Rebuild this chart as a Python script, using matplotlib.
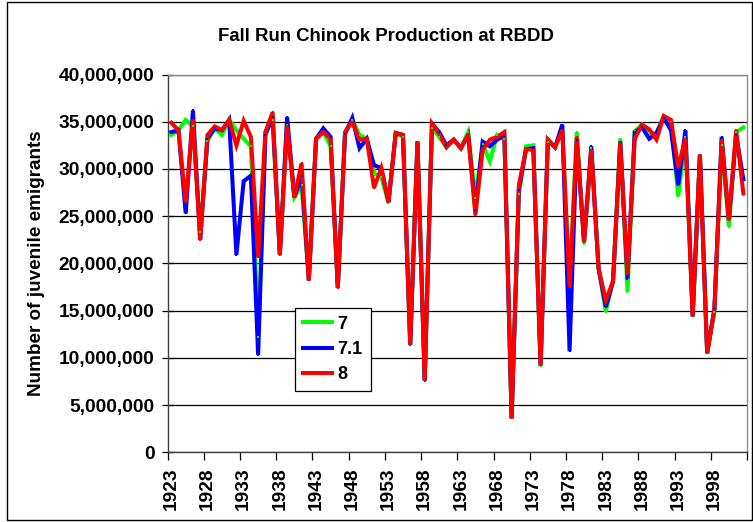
import matplotlib
matplotlib.use("Agg")
import matplotlib.pyplot as plt
import matplotlib.patches as mpatches
from matplotlib.ticker import FuncFormatter, FixedLocator
import numpy as np

plt.rcParams["font.family"] = ["Liberation Sans", "DejaVu Sans"]
plt.rcParams["font.weight"] = "bold"

# ── data (millions of juvenile emigrants) ─────────────────────────────────────
years = list(range(1923, 2003))

run_7 = [
    33.6, 34.1, 35.2, 34.5, 23.3, 33.0, 34.3, 33.6, 35.2, 34.1,
    33.2, 32.4, 12.2, 33.9, 35.2, 20.9, 34.7, 27.0, 28.3, 18.2,
    33.2, 33.9, 32.4, 17.4, 33.9, 35.2, 33.6, 33.2, 29.5, 29.2,
    26.4, 33.8, 33.4, 11.4, 32.9, 7.6, 34.3, 33.4, 32.3, 33.1,
    32.2, 33.9, 26.9, 32.6, 30.8, 33.6, 33.2, 3.6, 27.3, 32.4,
    32.5, 9.1, 32.9, 32.3, 34.1, 17.5, 33.9, 22.1, 32.2, 19.5,
    14.9, 18.1, 33.2, 17.0, 34.0, 34.7, 33.8, 33.8, 35.6, 35.1,
    27.1, 33.4, 14.4, 31.5, 10.5, 14.9, 32.5, 23.9, 33.9, 34.4,
]
run_71 = [
    33.9, 34.1, 25.3, 36.2, 22.5, 33.2, 34.3, 34.1, 35.2, 20.9,
    28.7, 29.3, 10.3, 33.6, 35.5, 20.9, 35.5, 27.0, 29.3, 18.2,
    33.2, 34.3, 33.4, 17.4, 33.7, 35.4, 32.2, 33.2, 30.4, 30.1,
    26.5, 33.8, 33.6, 11.4, 32.9, 7.6, 34.8, 33.9, 32.5, 33.1,
    32.2, 33.6, 25.7, 32.9, 32.4, 33.1, 33.5, 3.6, 27.8, 32.1,
    32.2, 9.2, 33.1, 32.3, 34.7, 10.7, 33.1, 22.3, 32.4, 19.5,
    15.4, 18.1, 32.9, 18.4, 33.9, 34.4, 33.2, 33.8, 35.4, 34.1,
    28.3, 34.1, 14.4, 31.5, 10.5, 15.2, 33.4, 24.6, 33.6, 28.9,
]
run_8 = [
    34.9, 34.1, 26.5, 35.2, 22.5, 33.6, 34.5, 34.1, 35.2, 32.5,
    35.1, 33.4, 20.7, 33.9, 36.0, 20.9, 34.5, 27.0, 30.6, 18.2,
    33.2, 33.9, 33.2, 17.4, 33.9, 35.0, 33.1, 33.2, 28.0, 30.1,
    26.5, 33.8, 33.6, 11.4, 32.9, 7.6, 34.8, 33.7, 32.3, 33.1,
    32.2, 33.6, 25.1, 32.0, 33.1, 33.4, 33.9, 3.6, 28.3, 32.1,
    32.0, 9.2, 33.1, 32.3, 34.1, 17.5, 33.4, 22.3, 32.0, 19.5,
    16.1, 18.1, 32.7, 18.9, 33.2, 34.7, 34.2, 33.1, 35.6, 35.2,
    30.2, 33.2, 14.4, 31.5, 10.5, 15.1, 33.1, 24.6, 34.1, 27.4,
]

series_names = ["7", "7.1", "8"]
series_colors = ["#00ff00", "#0000ff", "#ff0000"]
series_values = [run_7, run_71, run_8]

# ── figure ────────────────────────────────────────────────────────────────────
W, H = 753, 522
fig = plt.figure(figsize=(W / 100, H / 100), dpi=100)
fig.patch.set_facecolor("white")

# outer chart border
fig.add_artist(mpatches.Rectangle((7 / W, 2 / H), 745 / W, 518 / H,
                                  transform=fig.transFigure, fill=False,
                                  edgecolor="black", linewidth=1.0))

ax_l, ax_r, ax_t, ax_b = 167.6, 747.0, 74.5, 452.3
ax = fig.add_axes([ax_l / W, 1 - ax_b / H, (ax_r - ax_l) / W, (ax_b - ax_t) / H])

x = np.arange(len(years))
for name, color, vals in zip(series_names, series_colors, series_values):
    ax.plot(x, np.array(vals) * 1e6, color=color, linewidth=2.9,
            solid_joinstyle="miter", label=name, zorder=3)
for color, vals in zip(series_colors, series_values):
    ax.plot(x, np.array(vals) * 1e6, linestyle="none", marker="s",
            markersize=1.6, markeredgewidth=0, color=color, zorder=4)

ax.set_xlim(-0.5, len(years) - 0.5)
ax.set_ylim(0, 40_000_000)

# y axis
ax.set_yticks(np.arange(0, 40_000_001, 5_000_000))
ax.yaxis.set_major_formatter(FuncFormatter(lambda v, p: f"{int(v):,}"))
ax.yaxis.grid(True, color="black", linewidth=0.9)
ax.set_axisbelow(True)
ax.tick_params(axis="y", direction="inout", length=9, width=0.9,
               labelsize=13.8, pad=5)
for lab in ax.get_yticklabels():
    lab.set_fontweight("bold")

# x axis: ticks at category boundaries, labels at category centres
ax.xaxis.set_major_locator(FixedLocator(np.arange(-0.5, len(years), 5)))
ax.xaxis.set_minor_locator(FixedLocator(np.arange(0, len(years), 5)))
ax.xaxis.set_major_formatter(FuncFormatter(lambda v, p: ""))
ax.xaxis.set_minor_formatter(FuncFormatter(lambda v, p: str(years[int(round(v))])))
ax.tick_params(axis="x", which="major", direction="out", length=6, width=0.9)
ax.tick_params(axis="x", which="minor", length=0, labelsize=13.8,
               labelrotation=90, pad=11)
for lab in ax.get_xticklabels(minor=True):
    lab.set_fontweight("bold")

for side in ["top", "right"]:
    ax.spines[side].set_color("#8c8c8c")
    ax.spines[side].set_linewidth(1.0)
for side in ["left", "bottom"]:
    ax.spines[side].set_color("#404040")
    ax.spines[side].set_linewidth(1.0)

ax.set_ylabel("Number of juvenile emigrants", fontsize=13.6, fontweight="bold")
ax.yaxis.set_label_coords(-(ax_l - 45.5) / (ax_r - ax_l), 0.5)

fig.text(386 / W, 1 - 36.5 / H, "Fall Run Chinook Production at RBDD",
         ha="center", va="center", fontsize=13.4, fontweight="bold")

leg = ax.legend(loc="upper left", bbox_to_anchor=(0.22, 0.383),
                frameon=True, fancybox=False, edgecolor="black",
                framealpha=1, fontsize=13, handlelength=1.6,
                handletextpad=0.3, labelspacing=0.45, borderpad=0.45,
                borderaxespad=0)
leg.get_frame().set_linewidth(0.9)
for t in leg.get_texts():
    t.set_fontweight("bold")

fig.savefig("out.png", dpi=100, facecolor="white")
